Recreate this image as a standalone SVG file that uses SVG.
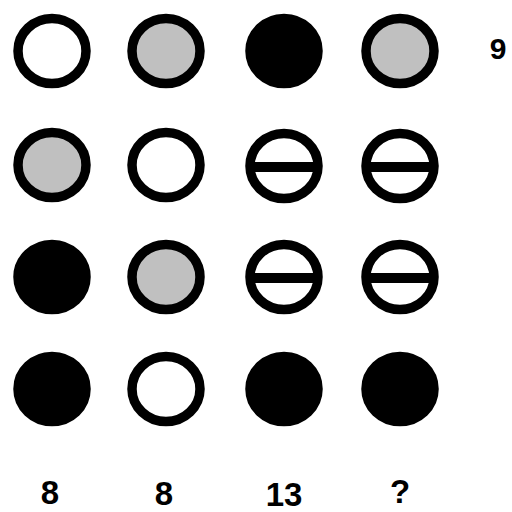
<svg xmlns="http://www.w3.org/2000/svg" width="512" height="512" viewBox="0 0 512 512">
<style>
.c{stroke:#000;stroke-width:9.5}
.w{fill:#fff}.g{fill:#c0c0c0}.b{fill:#000}
.bar{stroke:#000;stroke-width:10}
text{font-family:"Liberation Sans",Arial,sans-serif;font-weight:bold;fill:#000;text-anchor:middle}
</style>
<defs>
<g id="split"><ellipse class="c w" rx="34" ry="32.5"/><line class="bar" x1="-34" y1="1" x2="34" y2="1"/></g>
</defs>
<rect width="512" height="512" fill="#fff"/>
<g id="r1c1"><ellipse class="c w" cx="52" cy="51" rx="34" ry="32.5"/></g>
<g id="r1c2"><ellipse class="c g" cx="166" cy="51" rx="34" ry="32.5"/></g>
<g id="r1c3"><ellipse class="c b" cx="284" cy="51" rx="34" ry="32.5"/></g>
<g id="r1c4"><ellipse class="c g" cx="400" cy="51" rx="34" ry="32.5"/></g>
<g id="r2c1"><ellipse class="c g" cx="52" cy="165" rx="34" ry="32.5"/></g>
<g id="r2c2"><ellipse class="c w" cx="166" cy="165" rx="34" ry="32.5"/></g>
<g id="r2c3"><use href="#split" x="284" y="166"/></g>
<g id="r2c4"><use href="#split" x="400" y="166"/></g>
<g id="r3c1"><ellipse class="c b" cx="52" cy="277" rx="34" ry="32.5"/></g>
<g id="r3c2"><ellipse class="c g" cx="166" cy="277" rx="34" ry="32.5"/></g>
<g id="r3c3"><use href="#split" x="284" y="277"/></g>
<g id="r3c4"><use href="#split" x="400" y="277"/></g>
<g id="r4c1"><ellipse class="c b" cx="52" cy="389" rx="34" ry="32.5"/></g>
<g id="r4c2"><ellipse class="c w" cx="166" cy="389" rx="34" ry="32.5"/></g>
<g id="r4c3"><ellipse class="c b" cx="284" cy="389" rx="34" ry="32.5"/></g>
<g id="r4c4"><ellipse class="c b" cx="400" cy="389" rx="34" ry="32.5"/></g>
<g id="labels">
<text x="498" y="59" font-size="30">9</text>
<text x="50" y="504" font-size="33">8</text>
<text x="164" y="505" font-size="33">8</text>
<text x="284" y="506" font-size="33">13</text>
<text x="400" y="503" font-size="33">?</text>
</g>
</svg>
